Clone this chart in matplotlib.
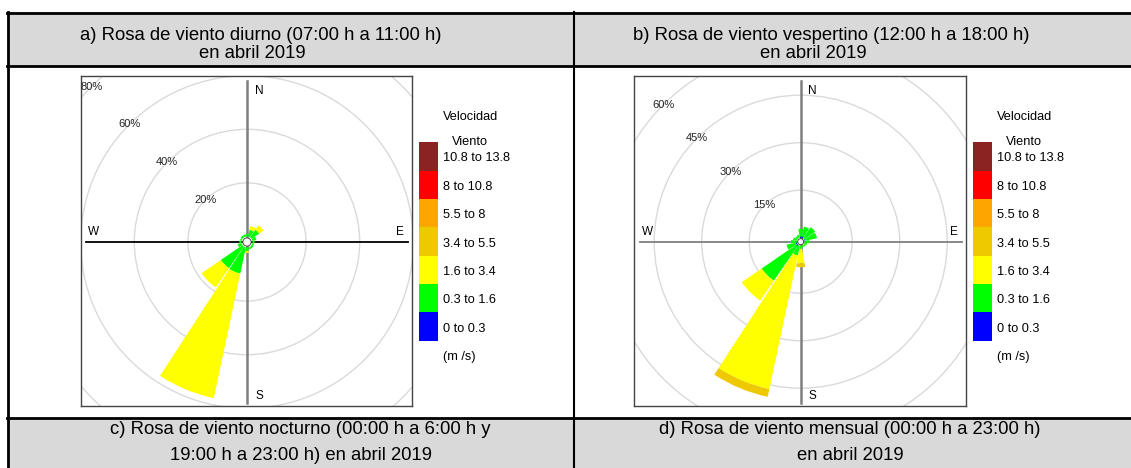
import numpy as np
import matplotlib.pyplot as plt
from matplotlib.patches import Wedge, Circle, Rectangle

plt.rcParams['font.family'] = ['Liberation Sans', 'DejaVu Sans']

W, H = 1131, 468

# wind direction sectors (degrees from north, clockwise)
directions = np.arange(16) * 22.5
speed_labels = ["0 to 0.3", "0.3 to 1.6", "1.6 to 3.4", "3.4 to 5.5",
                "5.5 to 8", "8 to 10.8", "10.8 to 13.8"]
speed_colors = ["#0000FF", "#00FF00", "#FFFF00", "#EEC900",
                "#FFA500", "#FF0000", "#8B2323"]

# a) diurno: frequency (%) per direction N, NNE, ..., NNW for each speed bin
diurno_b1 = [0, 0, 0, 0, 0, 0, 0, 0, 0, 0, 0, 0, 0, 0, 0, 0]
diurno_b2 = [1.0, 2.6, 3.5, 1.5, 0.8, 0.6, 0.8, 0.8, 1.3, 10.0, 9.8, 1.5, 0.8, 0.6, 0.8, 0.8]
diurno_b3 = [0, 1.4, 2.0, 0, 0, 0, 0, 0, 0.7, 47.5, 8.7, 0, 0, 0, 0, 0]
diurno_b4 = [0, 0, 0, 0, 0, 0, 0, 0, 0, 0, 0, 0, 0, 0, 0, 0]

# b) vespertino
vesp_b1 = [0.4, 0.4, 0, 0.2, 0, 0, 0, 0, 0, 0, 0.4, 0.3, 0, 0, 0, 0]
vesp_b2 = [2.4, 3.2, 4.3, 3.8, 1.5, 0.8, 0.6, 0.6, 1.0, 3.2, 13.3, 3.0, 1.8, 1.2, 0.8, 1.0]
vesp_b3 = [0, 0, 0, 0, 0, 0, 0, 0, 4.6, 43.1, 7.6, 0, 0, 0, 0, 0]
vesp_b4 = [0, 0, 0, 0, 0, 0, 0, 0, 1.2, 2.5, 0, 0, 0, 0, 0, 0]

diurno_rings = [20, 40, 60, 80]
vesp_rings = [15, 30, 45, 60]

titles_top = [("a) Rosa de viento diurno (07:00 h a 11:00 h)", "en abril 2019"),
              ("b) Rosa de viento vespertino (12:00 h a 18:00 h)", "en abril 2019")]
titles_bottom = [("c) Rosa de viento nocturno (00:00 h a 6:00 h y", "19:00 h a 23:00 h) en abril 2019"),
                 ("d) Rosa de viento mensual (00:00 h a 23:00 h)", "en abril 2019")]

fig = plt.figure(figsize=(W / 100, H / 100), dpi=100)


def px_axes(x, y, w, h, z=1):
    return fig.add_axes([x / W, 1 - (y + h) / H, w / W, h / H], zorder=z)


# table frame in pixel coordinates
tab = px_axes(0, 0, W, H, z=0)
tab.set_xlim(0, W)
tab.set_ylim(H, 0)
tab.axis("off")
tab.add_patch(Rectangle((7, 12), W - 7, 54, fc="#D9D9D9", ec="none"))
tab.add_patch(Rectangle((7, 418), W - 7, 50, fc="#D9D9D9", ec="none"))
for yy in [13, 65.5, 418]:
    tab.plot([7, W], [yy, yy], color="black", lw=2)
tab.plot([8, 8], [12, H], color="black", lw=2)
tab.plot([574, 574], [12, H], color="black", lw=1.5)

hdr_fs = 13.3
tab.text(260.5, 35, titles_top[0][0], ha="center", va="center", fontsize=hdr_fs)
tab.text(252, 53, titles_top[0][1], ha="center", va="center", fontsize=hdr_fs)
tab.text(831.7, 35, titles_top[1][0], ha="center", va="center", fontsize=hdr_fs)
tab.text(813.7, 53, titles_top[1][1], ha="center", va="center", fontsize=hdr_fs)
tab.text(300, 429, titles_bottom[0][0], ha="center", va="center", fontsize=hdr_fs)
tab.text(301, 456, titles_bottom[0][1], ha="center", va="center", fontsize=hdr_fs)
tab.text(850, 429, titles_bottom[1][0], ha="center", va="center", fontsize=hdr_fs)
tab.text(850, 456, titles_bottom[1][1], ha="center", va="center", fontsize=hdr_fs)


def rose(x0, y0, w, h, cx, cy, scale, off_px, rings, bins, hcolor):
    ax = px_axes(x0, y0, w, h)
    off = off_px / scale
    ax.set_xlim((x0 - cx) / scale, (x0 + w - cx) / scale)
    ax.set_ylim((cy - (y0 + h)) / scale, (cy - y0) / scale)
    ax.set_aspect("auto")
    ax.set_xticks([])
    ax.set_yticks([])
    for s in ax.spines.values():
        s.set_color("#444444")
        s.set_linewidth(1)

    for r in rings:
        ax.add_patch(Circle((0, 0), off + r, fill=False, ec="#DADADA", lw=1))
        d = (off + r) / np.sqrt(2)
        ax.text(-d, d, f"{r}%", ha="center", va="center", fontsize=8, color="#222222")

    L = 161 / scale
    ax.plot([0, 0], [-L, L], color="#7F7F7F", lw=1.8, zorder=1)
    ax.plot([-L, L], [0, 0], color=hcolor, lw=1.3, zorder=1)
    ax.text(12 / scale, 151 / scale, "N", ha="center", va="center", fontsize=8.5)
    ax.text(12 / scale, -154 / scale, "S", ha="center", va="center", fontsize=8.5)
    ax.text(-153 / scale, 10 / scale, "W", ha="center", va="center", fontsize=8.5)
    ax.text(153 / scale, 10 / scale, "E", ha="center", va="center", fontsize=8.5)

    half = 10.5
    for k, b in enumerate(directions):
        cum = off
        for vals, col in zip(bins, speed_colors):
            v = vals[k]
            if v <= 0:
                continue
            ax.add_patch(Wedge((0, 0), cum + v, 90 - b - half, 90 - b + half,
                               width=v, fc=col, ec="none", zorder=2))
            cum += v
    ax.add_patch(Circle((0, 0), off * 0.75, fc="white", ec="#333333", lw=0.6, zorder=3))
    return ax


def legend(bx, by, bw, seg):
    lg = px_axes(bx, by, bw, seg * len(speed_colors))
    lg.set_xlim(0, 1)
    lg.set_ylim(0, len(speed_colors))
    lg.axis("off")
    lg.bar(0.5, [1] * len(speed_colors), bottom=np.arange(len(speed_colors)),
           width=1, color=speed_colors)
    fs = 9.2
    tx = bx + bw + 5
    tab.text(tx, by - 25.5, "Velocidad", ha="left", va="center", fontsize=fs)
    tab.text(tx + 8.7, by - 0.5, "Viento", ha="left", va="center", fontsize=fs)
    for i, lab in enumerate(speed_labels):
        yy = by + seg * (len(speed_labels) - i - 0.5) + 2
        tab.text(tx, yy, lab, ha="left", va="center", fontsize=fs)
    tab.text(tx, by + seg * len(speed_labels) + 16, "(m /s)", ha="left", va="center", fontsize=fs)


rose(81, 76, 331, 330, 247, 242, 2.68, 5.5, diurno_rings,
     [diurno_b1, diurno_b2, diurno_b3, diurno_b4], "black")
rose(634, 76, 332, 330, 800.7, 241.7, 3.167, 4.0, vesp_rings,
     [vesp_b1, vesp_b2, vesp_b3, vesp_b4], "#7F7F7F")
legend(419, 142.3, 19.3, 28.35)
legend(973.3, 142.3, 18.5, 28.35)

fig.savefig("out.png", dpi=100)
